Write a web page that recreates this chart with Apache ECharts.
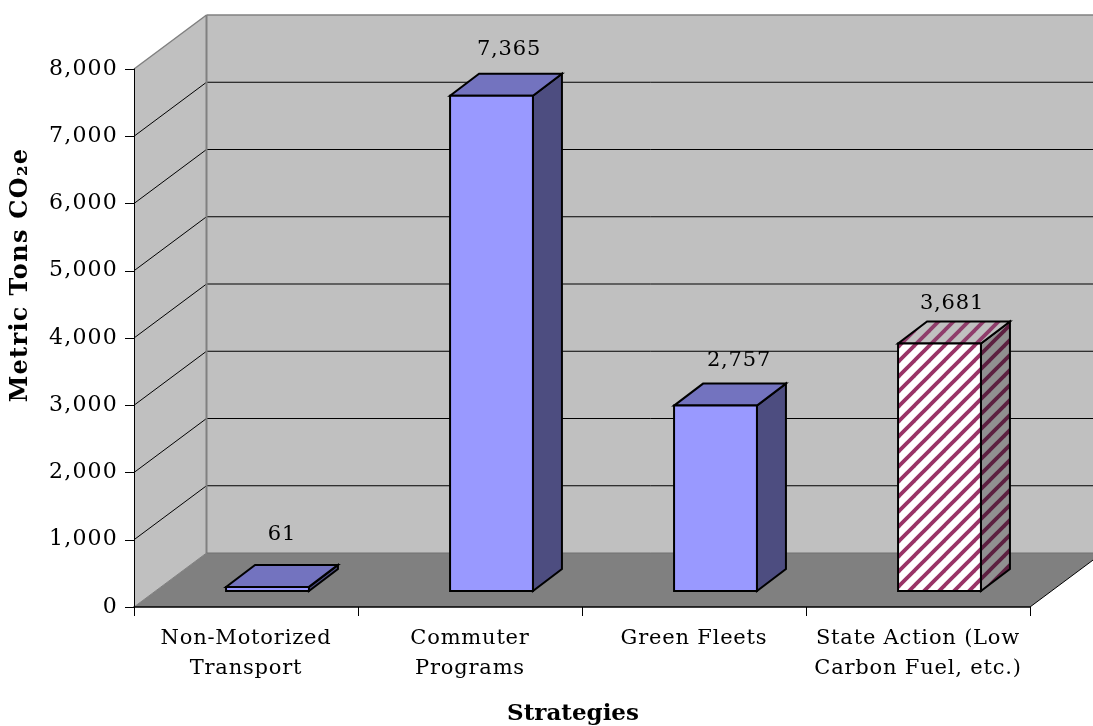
<!DOCTYPE html>
<html><head><meta charset="utf-8">
<style>html,body{margin:0;padding:0;background:#fff}#c{width:1093px;height:726px}</style>
<script src="https://cdn.jsdelivr.net/npm/echarts@6/dist/echarts.min.js"></script>
</head><body><div id="c"></div>
<script>
const categories = ['Non-Motorized\nTransport','Commuter\nPrograms','Green Fleets','State Action (Low\nCarbon Fuel, etc.)'];
const values = [61, 7365, 2757, 3681];
const valueLabels = ['61','7,365','2,757','3,681'];
const yTicks = [0,1000,2000,3000,4000,5000,6000,7000,8000];

const FONT = '"DejaVu Serif"';
const DX = 72.5, DY = 54;
const GX = 21.5, GY = 16, SX = 29, SY = 22, BAR = 0.37;
const labelNudge = [[0,-30],[3,-24],[9,-23],[-2,-18]];

// the reference's face is set wider than any installed serif: open up the tracking
const tracking = {'21px':'0.8px','22px':'1.2px','24px':'1.3px'};
const rawFillText = CanvasRenderingContext2D.prototype.fillText;
CanvasRenderingContext2D.prototype.fillText = function(t,x,y,m){
  const k = Object.keys(tracking).find(s=>this.font.includes(s));
  this.letterSpacing = k ? tracking[k] : '0px';
  return m===undefined ? rawFillText.call(this,t,x,y) : rawFillText.call(this,t,x,y,m);
};

function tile(bg, stripe){
  const s = 15, c = document.createElement('canvas');
  c.width = c.height = s;
  const x = c.getContext('2d');
  x.fillStyle = bg; x.fillRect(0,0,s,s);
  x.strokeStyle = stripe; x.lineWidth = 3.8;
  for (let i=-s;i<=2*s;i+=s){ x.beginPath(); x.moveTo(i-6,s+6); x.lineTo(i+s+6,-6); x.stroke(); }
  return {image:c, repeat:'repeat'};
}
const hatchFront = tile('#ffffff','#993366');
const hatchTop = tile('#c0c0c0','#8f3d6b');
const hatchSide = tile('#909090','#5c2040');
const plain = {front:'#9999ff', top:'#7373bf', side:'#4d4d80'};
const hatched = {front:hatchFront, top:hatchTop, side:hatchSide};

const chart = echarts.init(document.getElementById('c'), null, {renderer:'canvas', width:1093, height:726});

function poly(points, fill, stroke, lw){
  return {type:'polygon', shape:{points}, style:{fill, stroke:stroke||null, lineWidth:lw||0}};
}
function ln(a,b,stroke,lw){
  return {type:'line', shape:{x1:a[0],y1:a[1],x2:b[0],y2:b[1]}, style:{stroke, lineWidth:lw}};
}

chart.setOption({
  animation:false,
  textStyle:{fontFamily:FONT},
  grid:{left:134, right:63, top:69, bottom:119, containLabel:false, outerBoundsMode:'none'},
  xAxis:{type:'category', data:categories, z:10,
    name:'Strategies', nameLocation:'middle', nameGap:96,
    nameTextStyle:{fontFamily:FONT, fontWeight:'bold', fontSize:23, color:'#000', padding:[0,18,0,0]},
    axisLine:{lineStyle:{color:'#000', width:1.5}},
    axisTick:{show:true, length:9, alignWithLabel:false, lineStyle:{color:'#000', width:1}},
    axisLabel:{fontFamily:FONT, fontSize:21, color:'#000', margin:17, lineHeight:30, interval:0}
  },
  yAxis:{type:'value', min:0, max:8000, interval:1000, z:10,
    name:'Metric Tons CO₂e', nameLocation:'middle', nameGap:101, nameRotate:90,
    nameTextStyle:{fontFamily:FONT, fontWeight:'bold', fontSize:24, color:'#000', padding:[0,0,0,126]},
    splitLine:{show:false},
    axisLine:{show:true, lineStyle:{color:'#000', width:1}},
    axisTick:{show:true, length:9, lineStyle:{color:'#000', width:1}},
    axisLabel:{fontFamily:FONT, fontSize:22, color:'#000', margin:16,
      formatter:v=>v.toLocaleString('en-US')}
  },
  series:[
    {type:'custom', coordinateSystem:'cartesian2d', clip:false, silent:true, z:1,
     data:[0], encode:{x:0,y:0},
     renderItem(p, api){
       const c = v=>api.coord([0,v]);
       const left = api.coord([0,0])[0] - api.size([1,0])[0]/2;
       const right = left + api.size([1,0])[0]*categories.length;
       const y0 = c(0)[1], yMax = c(yTicks[yTicks.length-1])[1];
       const kids = [
         poly([[left+DX,yMax-DY],[right+DX,yMax-DY],[right+DX,y0-DY],[left+DX,y0-DY]],'#c0c0c0'),
         poly([[left,yMax],[left+DX,yMax-DY],[left+DX,y0-DY],[left,y0]],'#c0c0c0'),
         poly([[left,y0],[right,y0],[right+DX,y0-DY],[left+DX,y0-DY]],'#808080')
       ];
       yTicks.slice(1,-1).forEach(v=>{
         const y=c(v)[1];
         kids.push(ln([left,y],[left+DX,y-DY],'#000',1));
         kids.push(ln([left+DX,y-DY],[right+DX,y-DY],'#000',1));
       });
       kids.push(ln([left+DX,yMax-DY],[right+DX,yMax-DY],'#808080',1.5));
       kids.push(ln([left,yMax],[left+DX,yMax-DY],'#808080',1.5));
       kids.push(ln([left+DX,yMax-DY],[left+DX,y0-DY],'#808080',2));
       kids.push(ln([left+DX,y0-DY],[right+DX,y0-DY],'#707070',1));
       kids.push(ln([left,y0],[left+DX,y0-DY],'#808080',1));
       kids.push(ln([right,y0],[right+DX,y0-DY],'#000',1));
       return {type:'group', children:kids};
     }
    },
    {type:'custom', coordinateSystem:'cartesian2d', clip:false, silent:true, z:2,
     data:values.map((v,i)=>[i,v]), encode:{x:0,y:1},
     renderItem(p, api){
       const i = api.value(0), v = api.value(1);
       const base = api.coord([i,0]), top = api.coord([i,v]);
       const w = api.size([1,0])[0]*BAR;
       const x1 = base[0]+GX-w/2, x2 = x1+w;
       const yb = base[1]-GY, yt = top[1]-GY;
       const col = i===3 ? hatched : plain;
       const S='#000', L=2;
       const t = poly([[x1,yt],[x2,yt],[x2+SX,yt-SY],[x1+SX,yt-SY]],col.top,S,L);
       const s = poly([[x2,yt],[x2+SX,yt-SY],[x2+SX,yb-SY],[x2,yb]],col.side,S,L);
       const f = poly([[x1,yt],[x2,yt],[x2,yb],[x1,yb]],col.front,S,L);
       const n = labelNudge[i];
       const label = {type:'text', style:{
         x:base[0]+GX+SX/2+n[0], y:yt-SY+n[1],
         text:valueLabels[i], fill:'#000', font:'21px '+FONT, align:'center', verticalAlign:'middle'}};
       return {type:'group', children:[s,t,f,label]};
     }
    }
  ]
});
</script></body></html>
